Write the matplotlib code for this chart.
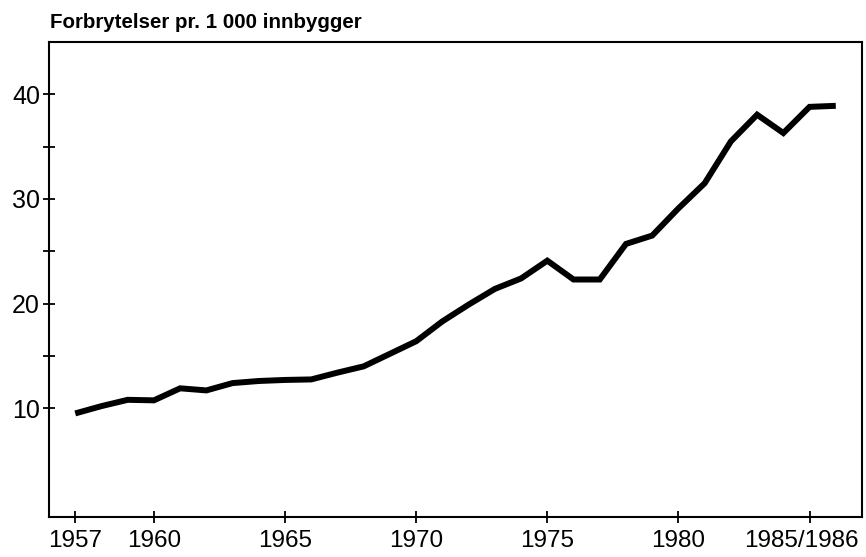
import matplotlib.pyplot as plt
import matplotlib.transforms as mtransforms
from matplotlib.ticker import FixedLocator

plt.rcParams['font.family'] = ['Liberation Sans', 'DejaVu Sans']

years = list(range(1957, 1987))
rate = [9.5, 10.2, 10.8, 10.75, 11.9, 11.7, 12.4, 12.6, 12.7, 12.75,
        13.4, 14.0, 15.2, 16.4, 18.3, 19.9, 21.4, 22.4, 24.1, 22.3,
        22.3, 25.7, 26.5, 29.1, 31.5, 35.5, 38.05, 36.3, 38.8, 38.9]

x_ticks = [1957, 1960, 1965, 1970, 1975, 1980, 1985]
x_labels = ["1957", "1960", "1965", "1970", "1975", "1980", "1985/1986"]
y_major = [10, 20, 30, 40]
y_minor = [15, 25, 35]

fig = plt.figure(figsize=(8.66, 5.57), dpi=100)
ax = fig.add_axes([0.0566, 0.0718, 0.9388, 0.8528])

ax.plot(years, rate, color="black", linewidth=4.3, solid_joinstyle="miter",
        solid_capstyle="butt")

ax.set_xlim(1956, 1987)
ax.set_ylim(-0.4, 45)

ax.set_xticks(x_ticks)
ax.set_xticklabels(x_labels)
ax.set_yticks(y_major)
ax.yaxis.set_minor_locator(FixedLocator(y_minor))

ax.tick_params(axis="both", which="both", direction="inout", length=9,
               width=1.3, labelsize=18, color="black")
ax.tick_params(axis="x", pad=5, labelsize=17.5)
ax.tick_params(axis="y", pad=2)

# last label sits a little left of its tick so it fits inside the figure
last = ax.get_xticklabels()[-1]
shift = mtransforms.ScaledTranslation(-6 / 72, 0, fig.dpi_scale_trans)
last.set_transform(last.get_transform() + shift)

for spine in ax.spines.values():
    spine.set_linewidth(1.5)

fig.text(0.058, 0.949, "Forbrytelser pr. 1 000 innbygger", fontsize=14.8,
         fontweight="bold", ha="left", va="baseline")

fig.savefig("out.png", dpi=100)
